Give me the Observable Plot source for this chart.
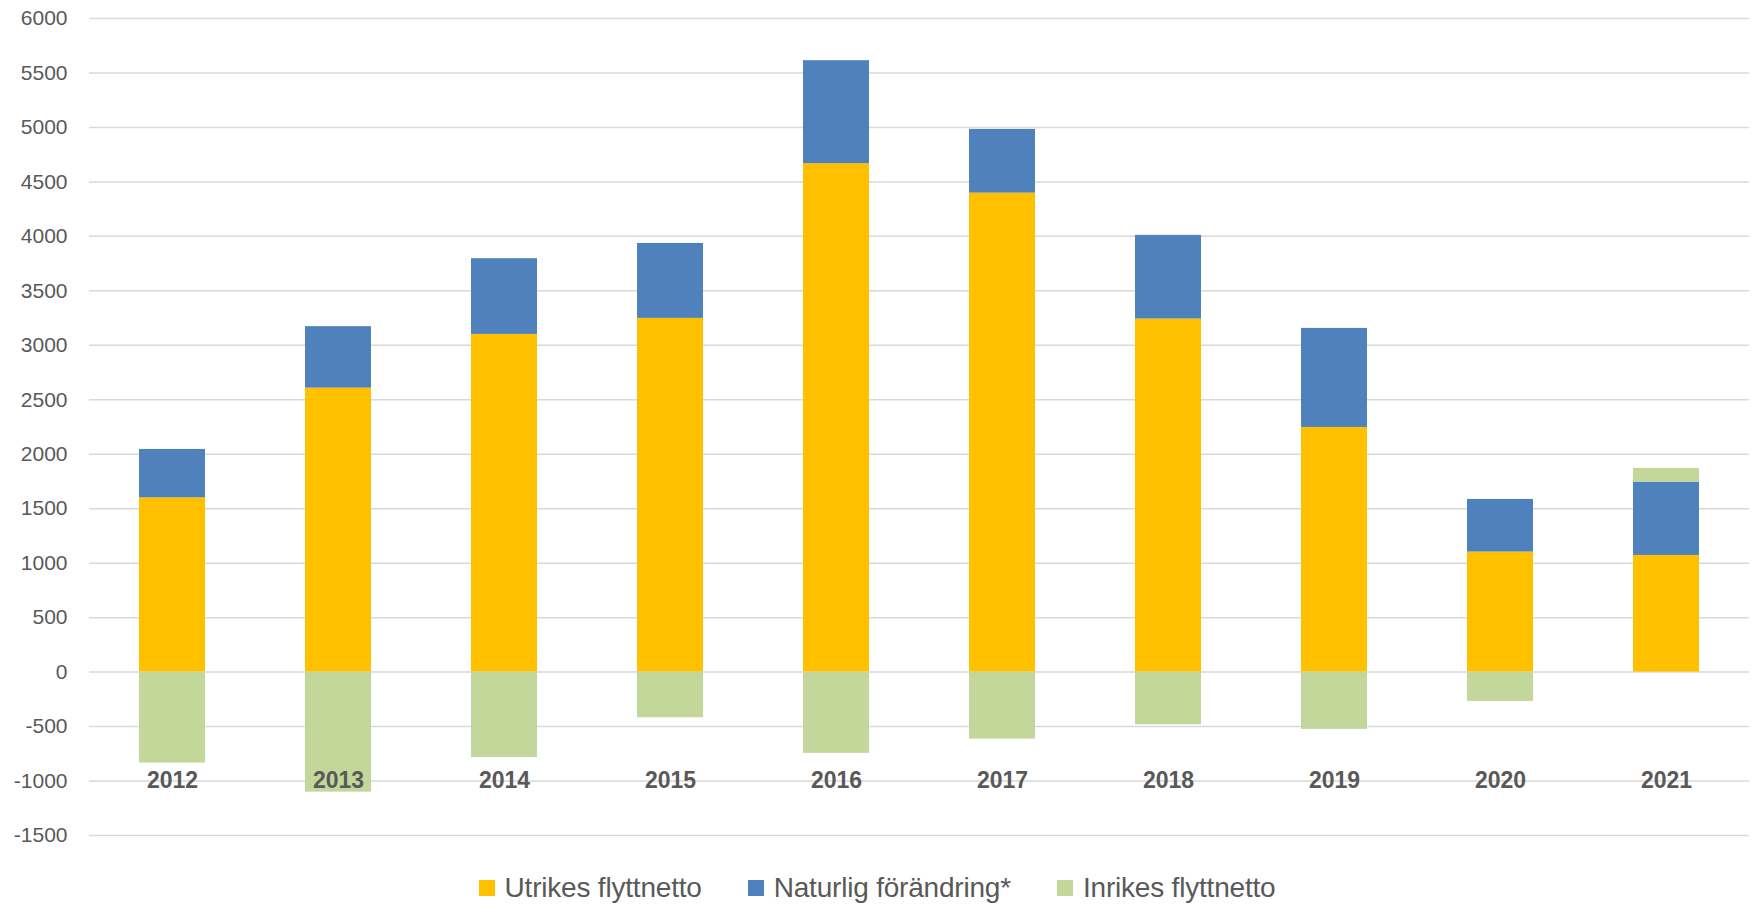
<!DOCTYPE html>
<html>
<head>
<meta charset="utf-8">
<script src="https://cdn.jsdelivr.net/npm/d3@7"></script>
<script src="https://cdn.jsdelivr.net/npm/@observablehq/plot@0.6"></script>
<style>
  html, body { margin: 0; padding: 0; background: #fff; }
  #chart svg { display: block; }
  #legend { display: flex; justify-content: center; align-items: center; gap: 46px;
    font-family: "Liberation Sans", Arial, sans-serif; font-size: 28px; color: #595959;
    margin-top: 12px; letter-spacing: -0.2px; }
  .item { display: flex; align-items: center; gap: 10px; }
  .sw { width: 16px; height: 16px; display: inline-block; }
</style>
</head>
<body>
<div id="chart"></div>
<div id="legend"></div>
<script>
const years = ["2012","2013","2014","2015","2016","2017","2018","2019","2020","2021"];
const seriesNames = ["Utrikes flyttnetto", "Naturlig förändring*", "Inrikes flyttnetto"];
const utrikes  = [1600, 2607, 3100, 3247, 4667, 4397, 3241, 2246, 1102, 1071];
const naturlig = [444, 564, 695, 688, 946, 585, 768, 909, 483, 673];
const inrikes  = [-835, -1102, -783, -419, -746, -615, -483, -526, -269, 126];
const colors = ["#FFC000", "#4F81BD", "#C4D79B"];
const yTicks = d3.range(-1500, 6001, 500);

const seriesValues = [utrikes, naturlig, inrikes];
const rows = [];
seriesNames.forEach((s, i) => years.forEach((y, j) => rows.push({year: y, series: s, value: seriesValues[i][j]})));

const font = "'Liberation Sans', Arial, sans-serif";
const chart = Plot.plot({
  width: 1754,
  height: 860,
  marginTop: 18,
  marginBottom: 25,
  marginLeft: 89,
  marginRight: 5,
  style: {fontFamily: font, background: "#fff"},
  x: {domain: years, paddingInner: 0.6, paddingOuter: 0.3, axis: null},
  y: {domain: [-1500, 6000], axis: null},
  color: {domain: seriesNames, range: colors},
  marks: [
    Plot.ruleY(yTicks, {stroke: "#d9d9d9", strokeWidth: 1.5}),
    Plot.barY(rows, Plot.stackY({x: "year", y: "value", fill: "series", order: seriesNames})),
    Plot.axisY(yTicks, {tickSize: 0, tickPadding: 22, fontSize: 21, fill: "#595959", label: null, tickFormat: d => String(d)}),
    Plot.text(years, {x: d => d, y: () => -1000, text: d => d, fontSize: 23, fontWeight: "bold", fill: "#595959"})
  ]
});
document.getElementById("chart").appendChild(chart);

const legend = document.getElementById("legend");
seriesNames.forEach((s, i) => {
  const it = document.createElement("div");
  it.className = "item";
  it.innerHTML = `<span class="sw" style="background:${colors[i]}"></span><span>${s}</span>`;
  legend.appendChild(it);
});
</script>
</body>
</html>
